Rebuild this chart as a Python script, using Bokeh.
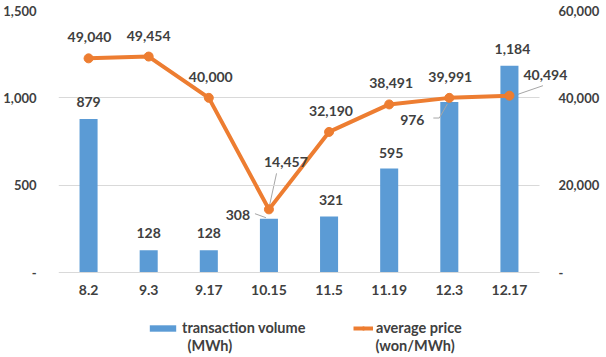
from bokeh.plotting import figure
from bokeh.models import (ColumnDataSource, Range1d, LinearAxis, FixedTicker,
                          CustomJSTickFormatter, LabelSet, Label, Legend, LegendItem)
from bokeh.core.properties import value
from bokeh.embed import file_html
from bokeh.resources import INLINE

dates = ["8.2", "9.3", "9.17", "10.15", "11.5", "11.19", "12.3", "12.17"]
volume = [879, 128, 128, 308, 321, 595, 976, 1184]
price = [49040, 49454, 40000, 14457, 32190, 38491, 39991, 40494]
vol_ticks = [0, 500, 1000, 1500]
price_ticks = [0, 20000, 40000, 60000]
vol_name = ["transaction volume", "(MWh)"]
price_name = ["average price", "(won/MWh)"]

# label offsets in screen pixels (style only)
vol_dx = [0, 0, 0, -31, 2, 2, -37, 3]
vol_dy = [17, 17, 17, 4, 16, 16, -18, 17]
price_dx = [1, 0, 2, 17, 2, 2, 1, 36]
price_dy = [21, 21, 21, 47, 21, 21, 21, 21]

FONT = value("Lato")
TXT = "#404040"
TICK = "#404040"
BLUE = "#5B9BD5"
ORANGE = "#ED7D31"

CAT_PX = 60.125               # px per category
EXTRA = 32                    # extra px right of plot area (labels)
BELOW = 84                    # extra px below plot area (x labels + legend)
PLOT_H = 262
FW = int(8 * CAT_PX) + EXTRA
FH = PLOT_H + BELOW
PX_X = 1 / CAT_PX
PX_V = 1500 / PLOT_H
PX_P = 60000 / PLOT_H

idx = list(range(len(dates)))
src = ColumnDataSource(dict(
    x=idx, volume=volume, price=price,
    vol_text=[f"{v:,}" for v in volume],
    price_text=[f"{v:,}" for v in price],
    vol_dx=vol_dx, vol_dy=vol_dy, price_dx=price_dx, price_dy=price_dy,
))

x_end = 7.5 + EXTRA / CAT_PX
p = figure(frame_width=FW, frame_height=FH, output_backend="svg", toolbar_location=None,
           x_range=Range1d(-0.5, x_end), y_range=Range1d(-BELOW * PX_V, 1500),
           min_border_left=49, min_border_right=30, min_border_top=10, min_border_bottom=0)
p.extra_y_ranges = {"price": Range1d(-BELOW * PX_P, 60000)}
p.outline_line_color = None
p.background_fill_color = "white"
p.border_fill_color = "white"

bars = p.vbar(x="x", top="volume", width=0.3, source=src, fill_color=BLUE, line_color=None)
line = p.line(x="x", y="price", source=src, y_range_name="price", line_color=ORANGE, line_width=4)
pts = p.scatter(x="x", y="price", source=src, y_range_name="price", size=9,
                fill_color=ORANGE, line_color=ORANGE)

fmt = CustomJSTickFormatter(code="return tick == 0 ? '-' : tick.toLocaleString('en-US');")

# x axis, pinned at y = 0
xa = p.xaxis[0]
xa.fixed_location = 0
xa.ticker = FixedTicker(ticks=idx)
xa.bounds = (-0.5, 7.5)
xa.major_label_overrides = {i: d for i, d in zip(idx, dates)}
xa.axis_line_color = "#D9D9D9"
xa.major_tick_line_color = None
xa.minor_tick_line_color = None
xa.major_label_standoff = 6
xa.major_label_text_font = "Lato"
xa.major_label_text_font_style = "bold"
xa.major_label_text_font_size = "14px"
xa.major_label_text_color = TICK

# left axis
ya = p.yaxis[0]
ya.ticker = FixedTicker(ticks=vol_ticks)
ya.formatter = fmt
ya.axis_line_color = None
ya.major_tick_line_color = None
ya.minor_tick_line_color = None
ya.major_label_standoff = 16
ya.major_label_text_font = "Lato"
ya.major_label_text_font_style = "bold"
ya.major_label_text_font_size = "13px"
ya.major_label_text_color = TICK

# right axis (frame extends past plot area, so labels sit inside via negative standoff)
ra = LinearAxis(y_range_name="price", ticker=FixedTicker(ticks=price_ticks), formatter=fmt)
ra.axis_line_color = None
ra.major_tick_line_color = None
ra.minor_tick_line_color = None
ra.major_label_standoff = 13 - EXTRA
ra.major_label_text_align = "left"
ra.major_label_text_font = "Lato"
ra.major_label_text_font_style = "bold"
ra.major_label_text_font_size = "13px"
ra.major_label_text_color = TICK
p.add_layout(ra, "right")

p.xgrid.grid_line_color = None
p.ygrid.ticker = FixedTicker(ticks=vol_ticks[1:])
p.ygrid.cross_bounds = (-0.5, 7.5)
p.ygrid.grid_line_color = "#D9D9D9"

# leader lines (pixel offsets from anchor converted to data units)
p.segment(x0=[3 - 14 * PX_X, 6 - 10 * PX_X, 6 - 16 * PX_X],
          y0=[volume[3] + 5 * PX_V, volume[6] - 16 * PX_V, volume[6] - 16 * PX_V],
          x1=[3 - 3 * PX_X, 6 - 2 * PX_X, 6 - 10 * PX_X],
          y1=[volume[3] + 1 * PX_V, volume[6] - 2 * PX_V, volume[6] - 16 * PX_V],
          line_color="#A6A6A6", line_width=1)
p.segment(x0=[3 + 7.6 * PX_X, 7 + 4.5 * PX_X], y0=[price[3] + 36 * PX_P, price[7]],
          x1=[3 + 0.6 * PX_X, 7 + 33.5 * PX_X], y1=[price[3] + 4 * PX_P, price[7] + 10 * PX_P],
          y_range_name="price", line_color="#A6A6A6", line_width=1, level="underlay")

vl = LabelSet(x="x", y="volume", text="vol_text", x_offset="vol_dx", y_offset="vol_dy", source=src,
              text_align="center", text_baseline="middle", text_font=FONT,
              text_font_style="bold", text_font_size="14px", text_color=TXT)
pl = LabelSet(x="x", y="price", text="price_text", x_offset="price_dx", y_offset="price_dy", source=src,
              y_range_name="price", text_align="center", text_baseline="middle", text_font=FONT,
              text_font_style="bold", text_font_size="14px", text_color=TXT)
p.add_layout(vl)
p.add_layout(pl)

LEG_FS = "14.5px"
leg_style = dict(padding=0, margin=0, label_standoff=3, border_line_color=None,
                 background_fill_alpha=0, label_text_font="Lato", label_text_font_style="bold",
                 label_text_font_size=LEG_FS, label_text_color=TXT, glyph_height=8)
leg1 = Legend(items=[LegendItem(label=vol_name[0], renderers=[bars])],
              location=(88, 20), glyph_width=33, **leg_style)
leg2 = Legend(items=[LegendItem(label=price_name[0], renderers=[line, pts])],
              location=(295, 20), glyph_width=20, **leg_style)
p.add_layout(leg1, "center")
p.add_layout(leg2, "center")

# second line of each legend entry
y2 = -(345 - 272) * PX_V
for name, px in ((vol_name[1], 186 - 57), (price_name[1], 374 - 57)):
    p.add_layout(Label(x=-0.5 + px * PX_X, y=y2, text=name, text_align="left",
                       text_baseline="middle", text_font="Lato", text_font_style="bold",
                       text_font_size=LEG_FS, text_color=TXT))

open("out.html", "w").write(file_html(p, INLINE))
